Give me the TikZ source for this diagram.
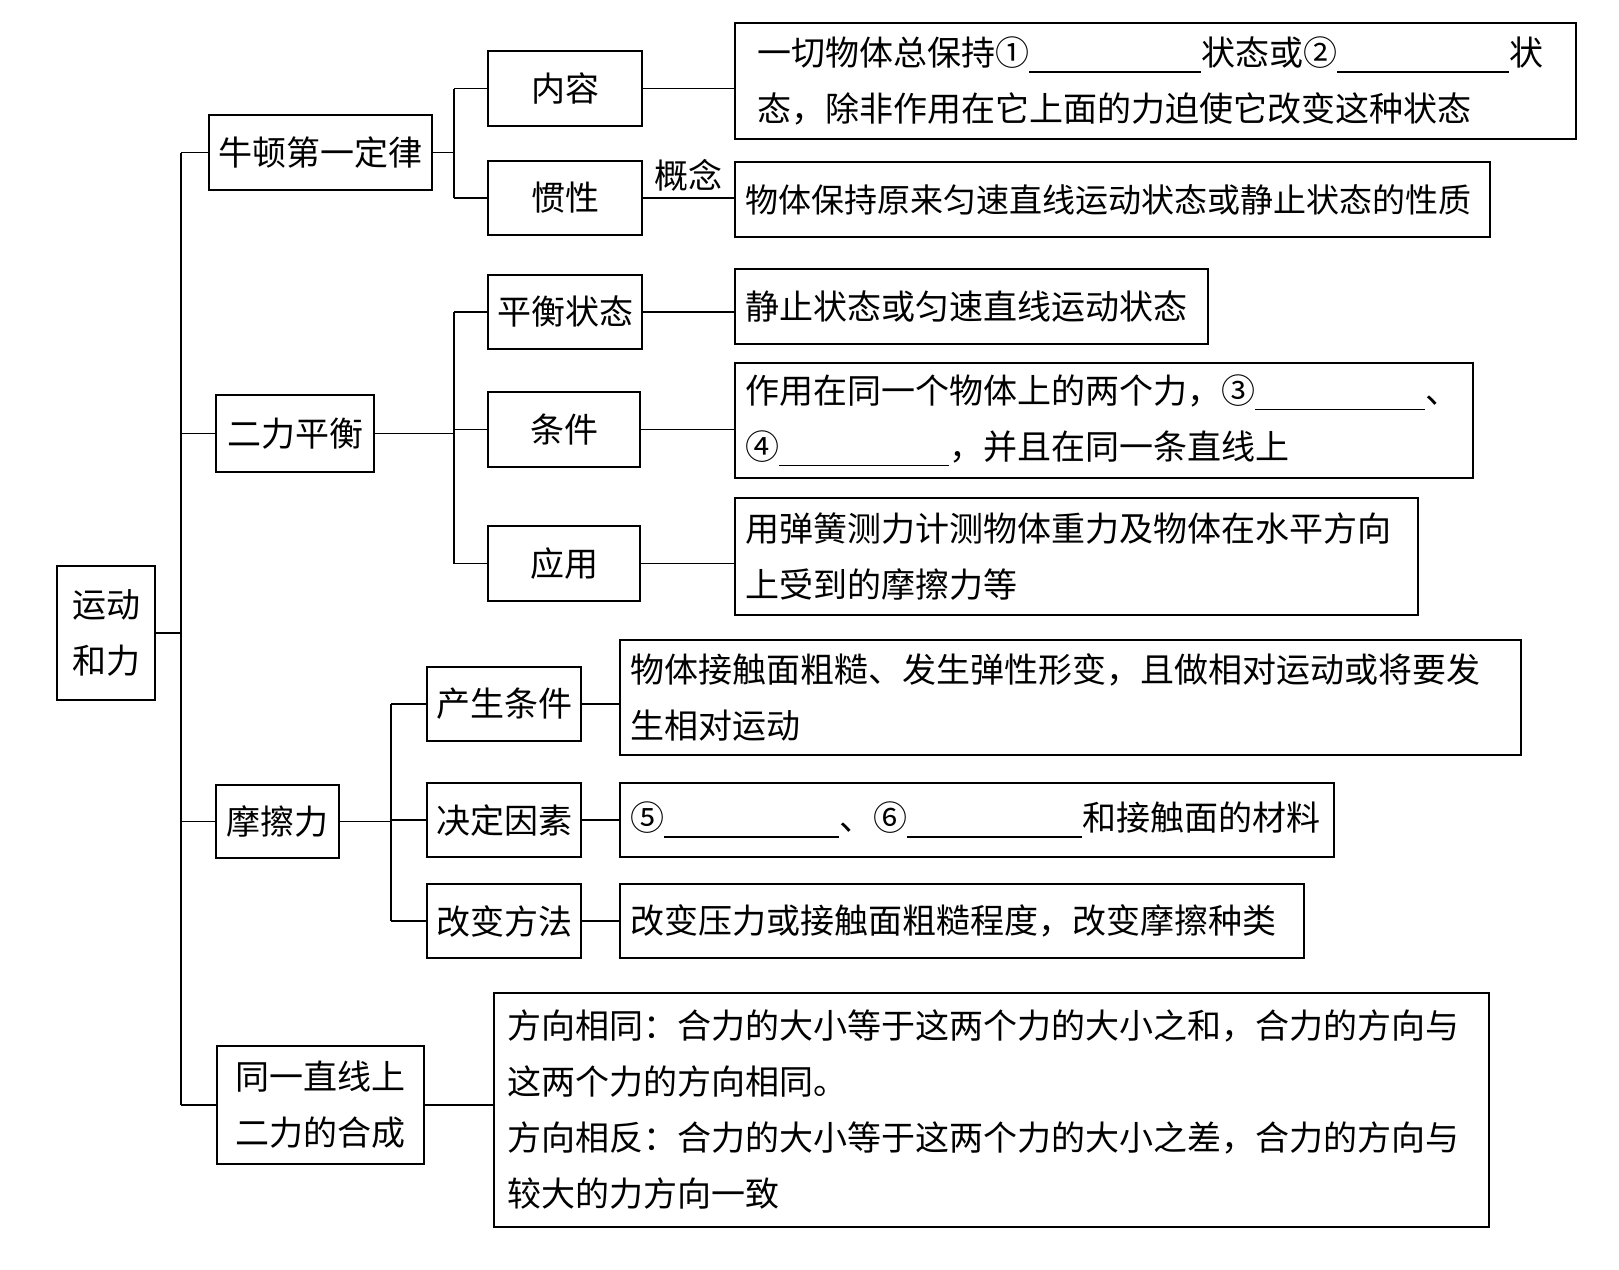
\documentclass[tikz,border=0pt]{standalone}
\usepackage{fontspec}
\newfontfamily\cjk{Noto Sans CJK SC}

\newcommand{\blank}[1][172pt]{\rule[-7pt]{#1}{1.4pt}}

\begin{document}
\begin{tikzpicture}[x=1pt,y=1pt,yscale=-1,
  box/.style={draw, line width=1.8pt, inner sep=0pt, align=center, font=\cjk\fontsize{34pt}{56pt}\selectfont},
  txt/.style={draw, line width=1.8pt, inner xsep=10pt, inner ysep=0pt, align=left, font=\cjk\fontsize{34pt}{56pt}\selectfont},
  link/.style={line width=1.6pt}]
\useasboundingbox (0,0) rectangle (1619,1269);

%Shape: Rect [root]
\node[box, minimum width=98pt, minimum height=134pt] (root) at (106,633) {运动\\和力};

%Shape: Rect [first level]
\node[box, minimum width=223pt, minimum height=75pt] (newton) at (320.5,152.5) {牛顿第一定律};
\node[box, minimum width=158pt, minimum height=77pt] (balance) at (295,433.5) {二力平衡};
\node[box, minimum width=123pt, minimum height=73pt] (friction) at (277.5,821.5) {摩擦力};
\node[box, minimum width=207pt, minimum height=118pt] (compose) at (320.5,1105) {同一直线上\\二力的合成};

%Shape: Rect [second level]
\node[box, minimum width=154pt, minimum height=75pt] (content) at (565,88.5) {内容};
\node[box, minimum width=154pt, minimum height=74pt] (inertia) at (565,198) {惯性};
\node[box, minimum width=154pt, minimum height=74pt] (state) at (565,312) {平衡状态};
\node[box, minimum width=152pt, minimum height=75pt] (cond) at (564,429.5) {条件};
\node[box, minimum width=152pt, minimum height=75pt] (apply) at (564,563.5) {应用};
\node[box, minimum width=154pt, minimum height=74pt] (cause) at (504,704) {产生条件};
\node[box, minimum width=154pt, minimum height=74pt] (factor) at (504,820) {决定因素};
\node[box, minimum width=154pt, minimum height=74pt] (change) at (504,921) {改变方法};

%Text boxes [third level]
\node[txt, inner xsep=22pt, text width=797pt, minimum height=116pt] (t1) at (1155.5,81)
  {一切物体总保持①\blank{}状态或②\blank{}状\\态，除非作用在它上面的力迫使它改变这种状态};
\node[txt, text width=735pt, minimum height=75pt, font=\cjk\fontsize{33pt}{56pt}\selectfont] (t2) at (1112.5,199.5)
  {物体保持原来匀速直线运动状态或静止状态的性质};
\node[txt, text width=453pt, minimum height=75pt] (t3) at (971.5,306.5)
  {静止状态或匀速直线运动状态};
\node[txt, text width=718pt, minimum height=115pt] (t4) at (1104,420.5)
  {作用在同一个物体上的两个力，③\blank[170pt]{}、\\④\blank[170pt]{}，并且在同一条直线上};
\node[txt, text width=663pt, minimum height=117pt] (t5) at (1076.5,556.5)
  {用弹簧测力计测物体重力及物体在水平方向\\上受到的摩擦力等};
\node[txt, text width=881pt, minimum height=115pt] (t6) at (1070.5,697.5)
  {物体接触面粗糙、发生弹性形变，且做相对运动或将要发\\生相对运动};
\node[txt, text width=694pt, minimum height=74pt] (t7) at (977,820)
  {⑤\blank[175pt]{}、⑥\blank[175pt]{}和接触面的材料};
\node[txt, text width=664pt, minimum height=74pt] (t8) at (962,921)
  {改变压力或接触面粗糙程度，改变摩擦种类};
\node[txt, inner xsep=13pt, text width=969pt, minimum height=234pt] (t9) at (991.5,1110)
  {方向相同：合力的大小等于这两个力的大小之和，合力的方向与\\这两个力的方向相同。\\方向相反：合力的大小等于这两个力的大小之差，合力的方向与\\较大的力方向一致};

%Branch points
\coordinate (k0) at (181,632);
\coordinate (k1) at (454,152);
\coordinate (k2) at (454,433);
\coordinate (k3) at (391,822);

%Straight Lines [trunk]
\draw[link] (root.east) -- (root.east -| k0);
\draw[link] (k0 |- newton) -- (k0 |- compose);
\draw[link] (k0 |- newton) -- (newton.west);
\draw[link] (k0 |- balance) -- (balance.west);
\draw[link] (k0 |- friction) -- (friction.west);
\draw[link] (k0 |- compose) -- (compose.west);

%Straight Lines [newton]
\draw[link] (newton.east) -- (newton.east -| k1);
\draw[link] (k1 |- content) -- (k1 |- inertia);
\draw[link] (k1 |- content) -- (content.west);
\draw[link] (k1 |- inertia) -- (inertia.west);

%Straight Lines [balance]
\draw[link] (balance.east) -- (balance.east -| k2);
\draw[link] (k2 |- state) -- (k2 |- apply);
\draw[link] (k2 |- state) -- (state.west);
\draw[link] (k2 |- cond) -- (cond.west);
\draw[link] (k2 |- apply) -- (apply.west);

%Straight Lines [friction]
\draw[link] (friction.east) -- (friction.east -| k3);
\draw[link] (k3 |- cause) -- (k3 |- change);
\draw[link] (k3 |- cause) -- (cause.west);
\draw[link] (k3 |- factor) -- (factor.west);
\draw[link] (k3 |- change) -- (change.west);

%Straight Lines [to text]
\draw[link] (content.east) -- (content.east -| t1.west);
\draw[link] (inertia.east) -- (inertia.east -| t2.west)
  node[midway, above=6pt, inner sep=0pt, font=\cjk\fontsize{34pt}{40pt}\selectfont] (concept) {概念};
\draw[link] (state.east) -- (state.east -| t3.west);
\draw[link] (cond.east) -- (cond.east -| t4.west);
\draw[link] (apply.east) -- (apply.east -| t5.west);
\draw[link] (cause.east) -- (cause.east -| t6.west);
\draw[link] (factor.east) -- (factor.east -| t7.west);
\draw[link] (change.east) -- (change.east -| t8.west);
\draw[link] (compose.east) -- (compose.east -| t9.west);

\end{tikzpicture}
\end{document}
